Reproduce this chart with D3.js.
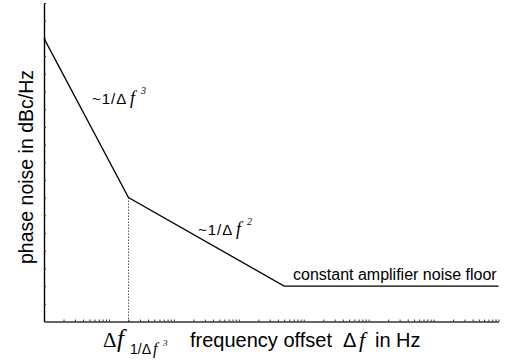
<!DOCTYPE html>
<html>
<head>
<meta charset="utf-8">
<script src="https://cdn.jsdelivr.net/npm/d3@7"></script>
<style>
  html, body { margin: 0; padding: 0; background: #fff; }
  svg { display: block; }
  .sans { font-family: "Liberation Sans", Arial, sans-serif; }
  .serif { font-family: "Liberation Serif", "Times New Roman", serif; font-style: italic; }
</style>
</head>
<body>
<svg id="chart" width="511" height="363"></svg>
<script>
// Piecewise phase-noise asymptotes: offset frequency (Hz) vs level (dBc/Hz)
const offsetHz = [1, 20, 5000, 1e7];
const noiseDb  = [-20, -110, -160, -160];

// Corner where the 1/Δf³ region hands over to 1/Δf²
const cornerHz = 20;
const cornerDb = -110;

// Axis extents and tick values
const xDomain = [1, 1e7];
const yDomain = [-180, 0];
const yTickValues = d3.range(-170, 1, 10);
const xTickValues = [];
for (let e = 0; e < 7; e++) {
  for (let k = 1; k <= 9; k++) {
    if (e === 0 && k === 1) continue;
    xTickValues.push(k * Math.pow(10, e));
  }
}
xTickValues.push(1e7);

const svg = d3.select("#chart");

const x = d3.scaleLog().domain(xDomain).range([44, 498.5]);
const y = d3.scaleLinear().domain(yDomain).range([321.5, 3]);

// Y axis: inward minor ticks, no labels
const yAxis = svg.append("g")
  .attr("transform", `translate(${x(xDomain[0])},0)`)
  .call(d3.axisRight(y).tickValues(yTickValues).tickSize(2).tickSizeOuter(0).tickFormat(""));
yAxis.select(".domain").attr("stroke", "#000").attr("stroke-width", 1.4);
yAxis.selectAll(".tick line").attr("stroke", "#333").attr("stroke-width", 1);

// X axis: logarithmic minor ticks pointing up
const xAxis = svg.append("g")
  .attr("transform", `translate(0,${y(yDomain[0])})`)
  .call(d3.axisTop(x).tickValues(xTickValues).tickSize(2).tickSizeOuter(0).tickFormat(""));
xAxis.select(".domain").attr("stroke", "#333").attr("stroke-width", 1.6);
xAxis.selectAll(".tick line").attr("stroke", "#333").attr("stroke-width", 1);

// Dotted drop line from the corner to the frequency axis
svg.append("line")
  .attr("x1", x(cornerHz)).attr("x2", x(cornerHz))
  .attr("y1", y(cornerDb)).attr("y2", y(yDomain[0]))
  .attr("stroke", "#000").attr("stroke-width", 1)
  .attr("stroke-dasharray", "1,2");

// Noise curve
const line = d3.line().x((d, i) => x(offsetHz[i])).y(d => y(d));
svg.append("path")
  .datum(noiseDb)
  .attr("d", line)
  .attr("fill", "none")
  .attr("stroke", "#000")
  .attr("stroke-width", 1.3);

// Y axis title
svg.append("text")
  .attr("class", "sans")
  .attr("transform", "translate(33,167) rotate(-90)")
  .attr("text-anchor", "middle")
  .attr("font-size", 19.5)
  .text("phase noise in dBc/Hz");

// Slope annotations
function slopeLabel(px, py, fx, sx, power) {
  const t = svg.append("text").attr("x", px).attr("y", py).attr("class", "sans").attr("font-size", 15);
  t.append("tspan").attr("letter-spacing", 1).text("~1/\u0394");
  t.append("tspan").attr("class", "serif").attr("font-size", 18).attr("x", fx).text("f");
  t.append("tspan").attr("class", "serif").attr("font-size", 10).attr("x", sx).attr("dy", -10).text(power);
}
slopeLabel(92, 104, 130, 141, "3");
slopeLabel(198, 235, 236, 247, "2");

// Floor annotation
svg.append("text")
  .attr("class", "sans")
  .attr("x", 293).attr("y", 280)
  .attr("font-size", 16)
  .text("constant amplifier noise floor");

// Corner frequency label under the axis
const cl = svg.append("text").attr("x", 103).attr("y", 347);
cl.append("tspan").attr("font-family", "Liberation Serif, serif").attr("font-size", 21).text("\u0394");
cl.append("tspan").attr("class", "serif").attr("font-size", 25).attr("x", 117).text("f");
cl.append("tspan").attr("class", "sans").attr("font-size", 14).attr("x", 130).attr("dy", 7).text("1/\u0394");
cl.append("tspan").attr("class", "serif").attr("font-size", 16).attr("x", 153).text("f");
cl.append("tspan").attr("class", "serif").attr("font-size", 9).attr("x", 163).attr("dy", -8).text("3");

// X axis title
const xt = svg.append("text").attr("x", 190).attr("y", 347).attr("class", "sans").attr("font-size", 20);
xt.append("tspan").text("frequency offset");
xt.append("tspan").attr("x", 343).text("\u0394");
xt.append("tspan").attr("class", "serif").attr("font-size", 22).attr("x", 359).text("f");
xt.append("tspan").attr("x", 375).text("in Hz");
</script>
</body>
</html>
